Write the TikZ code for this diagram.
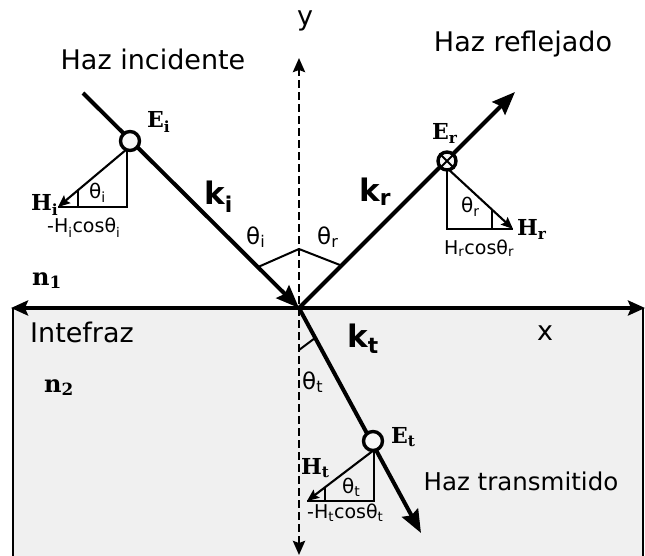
\documentclass[tikz,border=0pt]{standalone}
\usepackage{fontspec}
\setmainfont{DejaVu Sans}
\newfontfamily\serb{DejaVu Serif}
\usetikzlibrary{arrows.meta,calc}
\begin{document}
\begin{tikzpicture}[x=1pt,y=-1pt,
  ray/.style={line width=4pt,-{Stealth[length=23pt,width=18pt,inset=3pt]}},
  haxis/.style={line width=4pt,{Stealth[length=17pt,width=15pt,inset=3pt]}-{Stealth[length=17pt,width=15pt,inset=3pt]}},
  yaxis/.style={line width=2.8pt,dash pattern=on 8pt off 4pt,{Stealth[length=14pt,width=12pt,inset=2pt]}-{Stealth[length=14pt,width=12pt,inset=2pt]}},
  tri/.style={line width=2.1pt},
  hvec/.style={line width=2.1pt,-{Stealth[length=12pt,width=10pt,inset=2pt]}},
  angmark/.style={line width=2pt},
  efield/.style={circle,draw,line width=3.4pt,fill=black!3,minimum size=19pt,inner sep=0pt},
  lab/.style={inner sep=0pt,anchor=base west},
  bigtxt/.style={inner sep=0pt,anchor=base,font=\fontsize{27}{30}\selectfont},
  kvec/.style={lab,font=\fontsize{31}{33}\selectfont\bfseries},
  ang/.style={lab,font=\fontsize{23}{25}\selectfont},
  sang/.style={lab,font=\fontsize{20}{22}\selectfont},
  proj/.style={lab,font=\fontsize{19}{21}\selectfont},
  serlab/.style={lab,font=\fontsize{22}{24}\selectfont\serb\bfseries},
  nlab/.style={lab,font=\fontsize{24}{26}\selectfont\serb\bfseries}]
\useasboundingbox (0,0) rectangle (645,556);
% medium 2
\fill[black!6] (13,308) rectangle (643,560);
\draw[line width=2.6pt] (13,308) -- (13,560);
\draw[line width=2.6pt] (643,308) -- (643,560);
% coordinates
\coordinate (O) at (299,308);
\coordinate (Istart) at (83,93);
\coordinate (Rend) at (515,92);
\coordinate (Tend) at (421,533);
\coordinate (Ytop) at (299,58);
\coordinate (Ybot) at (299,555);
\coordinate (Xl) at (11,308);
\coordinate (Xr) at (645,308);
% axes
\draw[yaxis] (Ybot) -- (Ytop);
\draw[haxis] (Xl) -- (Xr);
% rays
\draw[ray] (Istart) -- (O);
\draw[ray] (O) -- (Rend);
\draw[ray] (O) -- (Tend);
% angle marks
\coordinate (mi) at ($(O)!58pt!(Istart)$);
\coordinate (mr) at ($(O)!60pt!(Rend)$);
\coordinate (my) at (299,249);
\draw[angmark] (mi) -- (my) -- (mr);
\coordinate (mt) at ($(O)!34pt!(Tend)$);
\coordinate (myt) at (299,350);
\draw[angmark] (mt) -- (myt);
% H triangles
\coordinate (ciC) at (130,141);
\coordinate (hiA) at (127,149);
\coordinate (hiB) at (127,207);
\coordinate (hiC) at (58,207);
\draw[tri] (hiA) -- (hiB) -- (hiC);
\draw[hvec] (hiA) -- (hiC);
\coordinate (hiT) at ($(hiA)!0.71!(hiC)$);
\draw[tri] (hiT) -- (hiT |- hiB);

\coordinate (crC) at (447,161);
\coordinate (hrA) at (447,168);
\coordinate (hrB) at (447,229);
\coordinate (hrC) at (513,229);
\draw[tri] (hrA) -- (hrB) -- (hrC);
\draw[hvec] (hrA) -- (hrC);
\coordinate (hrT) at ($(hrA)!0.68!(hrC)$);
\draw[tri] (hrT) -- (hrT |- hrB);

\coordinate (ctC) at (373,441);
\coordinate (htA) at (374,450);
\coordinate (htB) at (374,501);
\coordinate (htC) at (307,501);
\draw[tri] (htA) -- (htB) -- (htC);
\draw[hvec] (htA) -- (htC);
\coordinate (htT) at ($(htA)!0.73!(htC)$);
\draw[tri] (htT) -- (htT |- htB);
% E field circles
\node[efield] (Ei) at (ciC) {};
\node[efield,minimum size=18pt] (Er) at (crC) {};
\draw[line width=2pt] (Er.45) -- (Er.225) (Er.135) -- (Er.315);
\node[efield] (Et) at (ctC) {};
% texts
\node[bigtxt] (tyl) at (305,26) {y};
\node[bigtxt] (tinc) at (153,70) {Haz incidente};
\node[bigtxt] (tref) at (523,52) {Haz reflejado};
\node[bigtxt,font=\fontsize{24.5}{27}\selectfont] (ttra) at (521,490) {Haz transmitido};
\node[bigtxt] (tint) at (82,342) {Intefraz};
\node[bigtxt] (txl) at (545,340) {x};
\node[kvec] (lki) at (204,205) {k\textsubscript{i}};
\node[kvec] (lkr) at (359,202) {k\textsubscript{r}};
\node[kvec] (lkt) at (347,347) {k\textsubscript{t}};
\node[ang] (lti) at (246,244) {θ\textsubscript{i}};
\node[ang] (ltr) at (317,244) {θ\textsubscript{r}};
\node[ang] (ltt) at (302,389) {θ\textsubscript{t}};
\node[nlab] (ln1) at (32,285) {n\textsubscript{1}};
\node[nlab] (ln2) at (44,392) {n\textsubscript{2}};
\node[serlab] (lEi) at (147,128) {E\textsubscript{i}};
\node[serlab] (lEr) at (432,140) {E\textsubscript{r}};
\node[serlab] (lEt) at (391,443) {E\textsubscript{t}};
\node[serlab] (lHi) at (31,211) {H\textsubscript{i}};
\node[serlab] (lHr) at (517,236) {H\textsubscript{r}};
\node[serlab] (lHt) at (301,474) {H\textsubscript{t}};
\node[sang] (sti) at (89,199) {θ\textsubscript{i}};
\node[sang] (str) at (461,213) {θ\textsubscript{r}};
\node[sang] (stt) at (342,493) {θ\textsubscript{t}};
\node[proj] (pi) at (47,233) {-H\textsubscript{i}cosθ\textsubscript{i}};
\node[proj] (pr) at (444,254) {H\textsubscript{r}cosθ\textsubscript{r}};
\node[proj] (pt) at (307,518) {-H\textsubscript{t}cosθ\textsubscript{t}};
\end{tikzpicture}
\end{document}
